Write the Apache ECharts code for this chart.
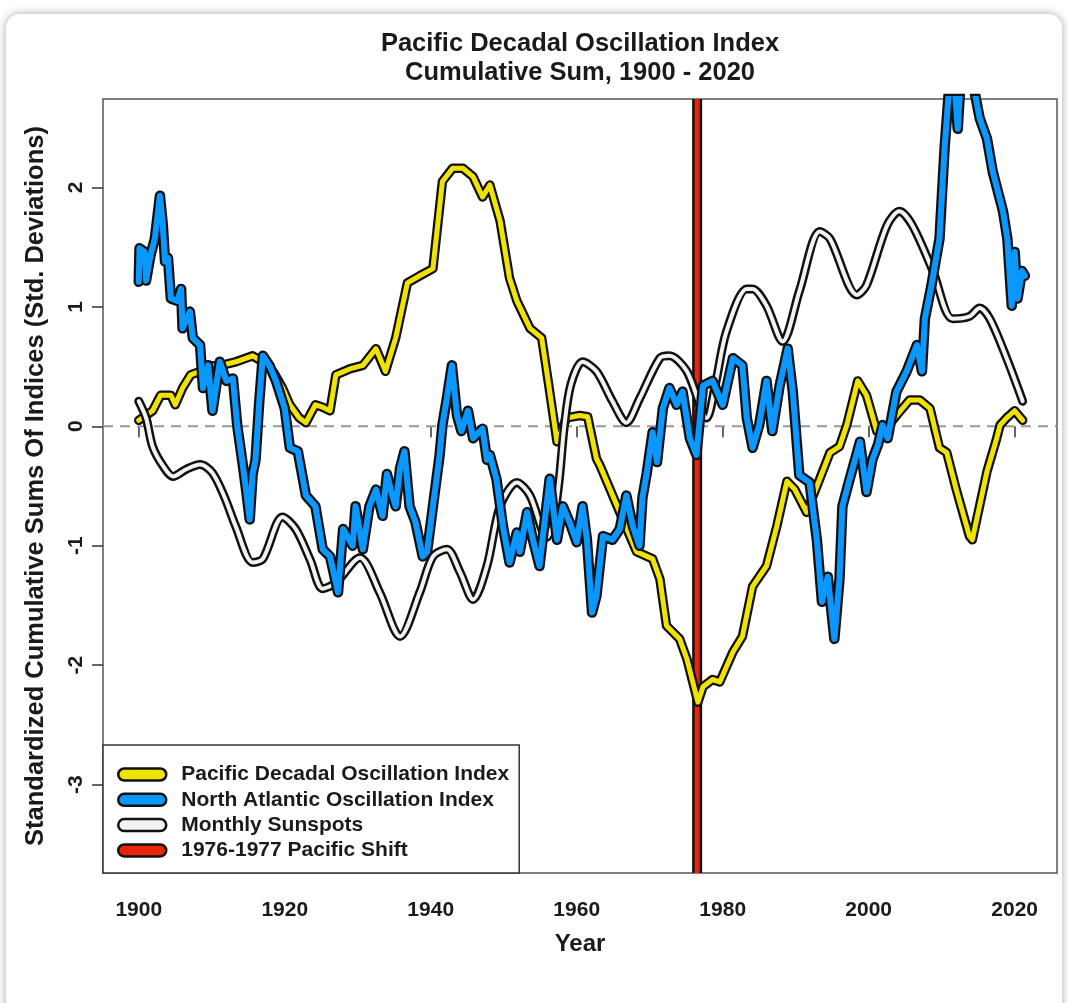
<!DOCTYPE html>
<html style="height: 100%">
<head>
	<meta charset="UTF-8">
	<title>Pacific Decadal Oscillation Index</title>
	<script src="https://cdn.jsdelivr.net/npm/echarts@6.0.0/dist/echarts.min.js"></script>
</head>
<body style="height: 100%; margin: 0; background: #fff">
	<div id="container" style="width: 1068px; height: 1003px;"></div>
<script type="text/javascript">
// year / value pairs
var pdo = [
	[1900, 0.05], [1901.9, 0.13], [1903, 0.26], [1904.4, 0.26], [1905, 0.18], [1906, 0.32],
	[1907.1, 0.43], [1908.4, 0.46], [1909.7, 0.51], [1911, 0.50], [1912, 0.52], [1913.3, 0.54],
	[1915.6, 0.59], [1917, 0.54], [1918.5, 0.45], [1919.7, 0.32], [1920.7, 0.18], [1922, 0.07],
	[1922.9, 0.03], [1924.2, 0.18], [1925.2, 0.16], [1926.2, 0.13], [1927, 0.43], [1928.9, 0.48],
	[1930.7, 0.51], [1932.5, 0.65], [1933.8, 0.46], [1935.2, 0.74], [1936.8, 1.20], [1938.5, 1.26],
	[1940.3, 1.32], [1941.6, 2.05], [1943, 2.16], [1944.4, 2.16], [1945.8, 2.09], [1947.1, 1.92],
	[1948.1, 2.02], [1949.5, 1.72], [1950.8, 1.24], [1951.8, 1.05], [1953.6, 0.82], [1955.2, 0.74],
	[1956.3, 0.29], [1957.3, -0.13], [1958.6, 0.07], [1960.4, 0.09], [1961.5, 0.08], [1962.7, -0.27],
	[1963.2, -0.33], [1965.9, -0.72], [1968.2, -1.05], [1970.4, -1.11], [1971.4, -1.28], [1972.3, -1.67],
	[1974.1, -1.78], [1975.1, -1.95], [1976.6, -2.31], [1977.3, -2.18], [1978.6, -2.12], [1979.6, -2.14],
	[1981.4, -1.89], [1982.7, -1.76], [1984.1, -1.34], [1986, -1.17], [1987.4, -0.84], [1988.8, -0.46],
	[1989.9, -0.53], [1991.5, -0.72], [1993.3, -0.44], [1994.7, -0.22], [1996, -0.17], [1997, 0.01],
	[1998.5, 0.38], [1999.7, 0.26], [2001.1, -0.04], [2002.4, -0.02], [2003.8, 0.09], [2005.6, 0.22],
	[2007, 0.22], [2008.4, 0.15], [2009.7, -0.18], [2010.7, -0.22], [2012, -0.53], [2013.8, -0.92],
	[2014.2, -0.95], [2016.2, -0.38], [2017.5, -0.11], [2018, 0.01], [2018.9, 0.07], [2020, 0.13],
	[2021.1, 0.05]
];

var nao = [
	[1900, 1.21], [1900.1, 1.49], [1900.8, 1.46], [1901, 1.22], [1901.6, 1.43], [1902.2, 1.57],
	[1902.9, 1.93], [1903.3, 1.68], [1903.6, 1.38], [1904, 1.41], [1904.4, 1.07], [1905.3, 1.05],
	[1905.8, 1.15], [1906, 0.82], [1907, 0.96], [1907.4, 0.74], [1908.4, 0.68], [1908.8, 0.32],
	[1909.5, 0.51], [1910.1, 0.13], [1911.1, 0.54], [1912, 0.38], [1912.9, 0.40], [1913.5, 0.0],
	[1914.2, -0.30], [1914.7, -0.53], [1915.2, -0.78], [1915.6, -0.40], [1916, -0.28], [1916.5, 0.20],
	[1917, 0.59], [1917.9, 0.51], [1918.8, 0.38], [1920, 0.15], [1920.7, -0.18], [1921.8, -0.21],
	[1922, -0.28], [1922.9, -0.58], [1924.2, -0.67], [1925.2, -1.03], [1926.2, -1.09], [1927.3, -1.39],
	[1928, -0.86], [1929.3, -1.00], [1929.7, -0.67], [1930.7, -1.03], [1931.6, -0.67], [1932.5, -0.53],
	[1933.4, -0.75], [1934, -0.40], [1934.6, -0.55], [1935.2, -0.67], [1935.8, -0.35], [1936.4, -0.21],
	[1937.1, -0.67], [1937.9, -0.80], [1938.9, -1.09], [1939.5, -1.05], [1940.3, -0.67], [1941.2, -0.25],
	[1941.6, 0.01], [1942.2, 0.23], [1942.9, 0.51], [1943.6, 0.09], [1944.2, -0.04], [1945.1, 0.13],
	[1945.8, -0.10], [1947.1, -0.02], [1947.7, -0.28], [1948.1, -0.24], [1949, -0.44], [1949.9, -0.84],
	[1950.8, -1.14], [1951.8, -0.89], [1952.2, -1.05], [1953.2, -0.72], [1954, -0.95], [1954.9, -1.17],
	[1955.6, -0.80], [1956.3, -0.44], [1957.3, -0.95], [1958.1, -0.67], [1959, -0.80], [1960, -0.97],
	[1960.8, -0.67], [1961.4, -0.95], [1962.1, -1.56], [1962.7, -1.42], [1963.6, -0.92], [1964.9, -0.95],
	[1965.9, -0.86], [1966.8, -0.58], [1967.7, -0.84], [1968.6, -1.00], [1969, -0.60], [1969.6, -0.39],
	[1970.4, -0.05], [1971, -0.30], [1971.8, 0.15], [1972.7, 0.32], [1973.7, 0.18], [1974.5, 0.29],
	[1975.5, -0.10], [1976.4, -0.24], [1977.3, 0.34], [1978.6, 0.38], [1980, 0.18], [1981.4, 0.57],
	[1982.7, 0.51], [1983.3, 0.07], [1984.1, -0.18], [1985, 0.01], [1986, 0.38], [1986.8, -0.04],
	[1987.8, 0.34], [1988.9, 0.65], [1989.6, 0.29], [1990.5, -0.41], [1991.9, -0.47], [1992.9, -0.95],
	[1993.6, -1.47], [1994.4, -1.26], [1995.3, -1.78], [1996, -1.28], [1996.4, -0.67], [1997.4, -0.44],
	[1998.4, -0.22], [1998.8, -0.13], [1999.7, -0.55], [2000.5, -0.28], [2001.3, -0.15], [2001.9, 0.01],
	[2002.6, -0.10], [2003.8, 0.29], [2005.2, 0.46], [2006.6, 0.68], [2007.3, 0.46], [2007.7, 0.90],
	[2008.6, 1.18], [2009.3, 1.43], [2009.7, 1.57], [2010.4, 2.33], [2011.1, 2.90], [2011.6, 3.00],
	[2012.2, 2.49], [2012.7, 3.00], [2013.5, 3.10], [2014.2, 2.90], [2015.2, 2.58], [2016.2, 2.41],
	[2017, 2.13], [2018.4, 1.80], [2019, 1.57], [2019.6, 1.01], [2020, 1.46], [2020.4, 1.07],
	[2021, 1.30], [2021.4, 1.26]
];

var sunspots = [
	[1900, 0.21], [1901, 0.07], [1901.9, -0.17], [1903.3, -0.33], [1904.7, -0.42], [1906.5, -0.36],
	[1908.4, -0.32], [1910.1, -0.39], [1911.8, -0.60], [1913.3, -0.84], [1915.6, -1.14], [1917, -1.11],
	[1919.7, -0.76], [1921.5, -0.86], [1923.5, -1.12], [1925.2, -1.36], [1927, -1.31], [1930.3, -1.10],
	[1933, -1.39], [1935.8, -1.76], [1938.5, -1.39], [1940.3, -1.09], [1942.2, -1.03], [1944, -1.22],
	[1945.8, -1.45], [1947.7, -1.17], [1949.5, -0.67], [1951.8, -0.47], [1953.6, -0.58], [1955.9, -0.93],
	[1956.8, -0.80], [1957.6, -0.45], [1958.3, 0.00], [1959.2, 0.35], [1960.8, 0.54], [1962.7, 0.46],
	[1964.9, 0.21], [1966.8, 0.03], [1968.6, 0.23], [1971.4, 0.57], [1972.7, 0.59], [1975.1, 0.46],
	[1977.8, 0.07], [1979, 0.35], [1980.5, 0.79], [1983.3, 1.15], [1984.1, 1.15], [1986, 1.01],
	[1988.2, 0.71], [1990.5, 1.13], [1993.3, 1.63], [1994.7, 1.57], [1998.4, 1.10], [1999.7, 1.18],
	[2002.5, 1.68], [2004.2, 1.80], [2006, 1.68], [2008.8, 1.30], [2011.5, 0.90], [2013.8, 0.92],
	[2015.2, 0.99], [2016.6, 0.90], [2018.9, 0.57], [2021.1, 0.21]
];

var shiftYear = 1976.5;
var xTicks = [1900, 1920, 1940, 1960, 1980, 2000, 2020];
var yTicks = [-3, -2, -1, 0, 1, 2];

var X_MIN = 1895.1, X_MAX = 2025.8;
var Y_MIN = -3.74, Y_MAX = 2.74;

var FONT = '"Liberation Sans", Arial, Helvetica, sans-serif';
var names = ['Pacific Decadal Oscillation Index', 'North Atlantic Oscillation Index',
	'Monthly Sunspots', '1976-1977 Pacific Shift'];
var colors = ['#f0e300', '#0a98ff', '#f2f2f2', '#e8240a'];
var pill = 'path://M6,0 L42,0 A6,6 0 0 1 42,12 L6,12 A6,6 0 0 1 6,0 Z';

// R style "outlined" line: a wide black stroke under a narrower coloured one
function outlined(name, data, color, z, outer, inner, smooth, cap) {
	var base = {
		type: 'line',
		data: data,
		showSymbol: false,
		symbol: 'none',
		smooth: smooth || false,
		animation: false,
		silent: true
	};
	cap = cap || 'round';
	return [
		Object.assign({}, base, {
			name: name + ' (outline)', z: z,
			lineStyle: { color: '#111', width: outer, cap: cap, join: 'round' }
		}),
		Object.assign({}, base, {
			name: name, z: z + 1,
			lineStyle: { color: color, width: inner, cap: cap, join: 'round' }
		})
	];
}

var dom = document.getElementById('container');
var myChart = echarts.init(dom, null, { renderer: 'canvas' });

var series = [];
series.push({
	type: 'line', name: 'zero', z: 1, silent: true, animation: false,
	showSymbol: false, symbol: 'none',
	data: [[X_MIN, 0], [X_MAX, 0]],
	lineStyle: { color: '#999', width: 2, type: [10, 7] }
});
series = series.concat(outlined(names[3], [[shiftYear, Y_MIN], [shiftYear, Y_MAX]], colors[3], 2, 10, 5, false, 'butt'));
series = series.concat(outlined(names[0], pdo, colors[0], 4, 9.5, 5));
series = series.concat(outlined(names[2], sunspots, colors[2], 6, 9, 4, 0.3));
series = series.concat(outlined(names[1], nao, colors[1], 8, 10.5, 6));

var option = {
	backgroundColor: 'transparent',
	animation: false,
	textStyle: { fontFamily: FONT },
	graphic: [{
		type: 'rect', z: -10, silent: true,
		shape: { x: 6, y: 14, width: 1056, height: 1010, r: 14 },
		style: { fill: '#fff', shadowBlur: 10, shadowColor: 'rgba(0,0,0,0.35)' }
	}],
	title: {
		text: 'Pacific Decadal Oscillation Index\nCumulative Sum, 1900 - 2020',
		left: 575,
		textAlign: 'center',
		top: 24,
		textStyle: {
			fontFamily: FONT, fontWeight: 'bold', fontSize: 25.5,
			lineHeight: 29, color: '#1a1a1a'
		}
	},
	legend: {
		orient: 'vertical',
		left: 103,
		top: 745,
		z: 20,
		padding: [19, 10, 12, 14],
		itemGap: 4.3,
		itemWidth: 48,
		itemHeight: 12,
		backgroundColor: '#fff',
		borderColor: '#333',
		borderWidth: 1.5,
		selectedMode: false,
		textStyle: {
			fontFamily: FONT, fontWeight: 'bold', fontSize: 21, color: '#1a1a1a',
			padding: [0, 0, 0, 10]
		},
		data: names.map(function (n, i) {
			return {
				name: n, icon: pill,
				itemStyle: { color: colors[i], borderColor: '#111', borderWidth: 2.5 }
			};
		})
	},
	grid: {
		left: 103, top: 99, width: 954, height: 774,
		show: true, borderColor: '#555', borderWidth: 1.5,
		containLabel: false
	},
	xAxis: {
		type: 'value',
		min: X_MIN, max: X_MAX,
		name: 'Year',
		nameLocation: 'middle',
		nameGap: 59,
		nameTextStyle: { fontFamily: FONT, fontWeight: 'bold', fontSize: 24, color: '#1a1a1a' },
		axisLine: { show: false },
		splitLine: { show: false },
		axisTick: {
			show: true, length: 11, customValues: xTicks,
			lineStyle: { color: '#333', width: 1.5 }
		},
		axisLabel: {
			customValues: xTicks, margin: 27,
			formatter: function (v) { return String(v); },
			fontFamily: FONT, fontWeight: 'bold', fontSize: 21, color: '#1a1a1a'
		}
	},
	yAxis: {
		type: 'value',
		min: Y_MIN, max: Y_MAX,
		name: 'Standardized Cumulative Sums Of Indices (Std. Deviations)',
		nameLocation: 'middle',
		nameRotate: 90,
		nameGap: 54,
		nameTextStyle: { fontFamily: FONT, fontWeight: 'bold', fontSize: 25.5, color: '#1a1a1a' },
		axisLine: { show: false },
		splitLine: { show: false },
		axisTick: {
			show: true, length: 11, customValues: yTicks,
			lineStyle: { color: '#333', width: 1.5 }
		},
		axisLabel: {
			customValues: yTicks, rotate: 90, margin: 16,
			formatter: function (v) { return String(v); },
			fontFamily: FONT, fontWeight: 'bold', fontSize: 21, color: '#1a1a1a'
		}
	},
	series: series
};

myChart.setOption(option, true);
</script>
</body>
</html>
